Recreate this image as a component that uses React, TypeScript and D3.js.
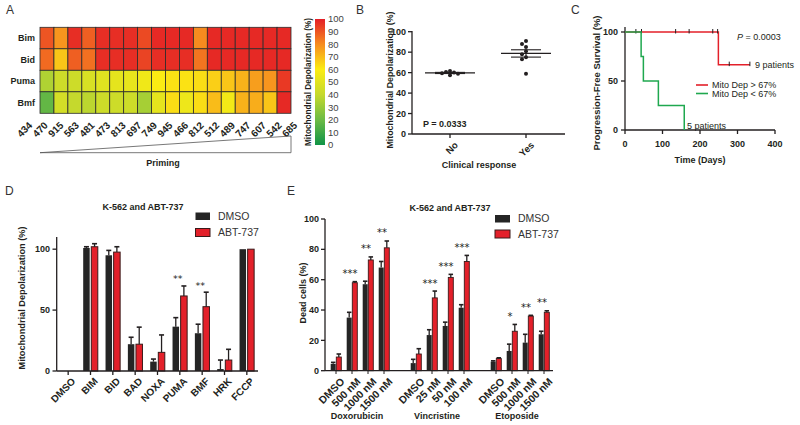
import React from 'react';
import * as d3 from 'd3';

// ---------- Panel A data ----------
const primingSamples = ["434","470","915","563","481","473","813","697","749","945","466","812","512","489","747","607","542","685"];
const bh3Peptides = ["Bim","Bid","Puma","Bmf"];
const bimRow = [90,78,97,88,97,97,97,92,98,98,98,80,98,98,98,98,98,98];
const bidRow = [86,68,88,85,97,97,97,93,97,97,97,84,98,98,98,98,98,98];
const pumaRow = [35,43,43,47,50,52,53,56,60,62,62,63,66,68,72,76,78,95];
const bmfRow = [18,45,40,38,43,43,43,33,52,63,55,63,70,57,72,73,68,98];
const colorStops = [0,20,40,60,80,100];
const colorRange = ["#109447","#6cbb45","#c5d92d","#fbec13","#f68b1f","#e41e26"];
const colorbarTicks = [0,10,20,30,40,50,60,70,80,90,100];

// ---------- Panel B data ----------
const responseCats = ["No","Yes"];
const responseNo = [61.5,60.5,60,59.5,59,57.5];
const responseYes = [91,88,85,81,78,75,73,59];
const bTicks = [0,20,40,60,80,100];

// ---------- Panel C data ----------
const highTimes = [0,249,333];
const highSurv = [100,66.7,66.7];
const highCensor = [29,44,135,171,234,247,278,333];
const lowTimes = [0,43,49,89,158];
const lowSurv = [100,75,50,25,0];
const cXTicks = [0,100,200,300,400];
const cYTicks = [0,50,100];

// ---------- Panel D data ----------
const peptidesD = ["DMSO","BIM","BID","BAD","NOXA","PUMA","BMF","HRK","FCCP"];
const dmsoDep = [0,101,95,22,7.7,36.4,31,1.6,100];
const dmsoDepErr = [0,1,4,5.7,2.1,7.4,7.4,7.4,0];
const abtDep = [0,102,97.6,22,15.3,61.6,52.8,9,100];
const abtDepErr = [0,2.5,4.4,14,14.3,8.2,11.9,8.8,0];
const depStars = ["","","","","","**","**","",""];
const dTicks = [0,50,100];

// ---------- Panel E data ----------
const drugs = ["Doxorubicin","Vincristine","Etoposide"];
const treatmentLabels = ["DMSO","500 nM","1000 nM","1500 nM","DMSO","25 nM","50 nM","100 nM","DMSO","500 nM","1000 nM","1500 nM"];
const dmsoDead = [4.5,35,57,68,5,23.5,29.5,41.5,6,13,18.5,24];
const dmsoDeadErr = [1,3.5,2,4,2.5,3.5,2.5,2,0.5,4.5,5.5,2];
const abtDead = [9,58,73,81,11,48,61.5,72,8,26,36,38.5];
const abtDeadErr = [2,0.7,2,4.5,3.5,4.5,2,4,0.5,4.5,0.5,1];
const deadStars = ["","***","**","**","","***","***","***","","*","**","**"];
const eTicks = [0,20,40,60,80,100];

const FONT = "'Liberation Sans', Arial, Helvetica, sans-serif";
const INK = "#231f20";
const RED = "#e3202a";
const BLACK = "#252525";
const AXW = 1.3;

function PanelLabel({ x, y, t }: { x: number; y: number; t: string }) {
  return <text x={x} y={y} fontSize={12} fill="#333" fontFamily={FONT}>{t}</text>;
}

function Stars({ x, y, s, size }: { x: number; y: number; s: string; size: number }) {
  return (
    <text x={x} y={y} textAnchor="middle" fontSize={size} fill="#222" stroke="none"
      fontFamily="'DejaVu Sans', 'Liberation Sans', sans-serif" style={{ fontVariantEmoji: 'text' } as any}>{s}</text>
  );
}

function PanelA() {
  const x = d3.scaleBand().domain(primingSamples).range([40, 291]);
  const y = d3.scaleBand().domain(bh3Peptides).range([27.3, 113.3]);
  const color = d3.scaleLinear<string>().domain(colorStops).range(colorRange).interpolate(d3.interpolateRgb);
  const rows = [bimRow, bidRow, pumaRow, bmfRow];
  const labelX = d3.scalePoint().domain(primingSamples).range([28, 293]);
  const cb = d3.scaleLinear().domain([0, 100]).range([145, 19]);
  return (
    <g fontFamily={FONT}>
      <defs>
        <linearGradient id="cbGrad" x1="0" y1="1" x2="0" y2="0">
          {colorStops.map((s, i) => (
            <stop key={i} offset={`${s}%`} stopColor={colorRange[i]} />
          ))}
        </linearGradient>
      </defs>
      {rows.map((row, r) =>
        row.map((v, c) => (
          <rect key={`${r}-${c}`} x={x(primingSamples[c])!} y={y(bh3Peptides[r])!}
            width={x.bandwidth()} height={y.bandwidth()} fill={color(v)} stroke="#2b2b2b" strokeWidth={0.8} />
        ))
      )}
      {bh3Peptides.map(p => (
        <text key={p} x={35} y={y(p)! + y.bandwidth() / 2} dy="0.35em" textAnchor="end" fontSize={9} fontWeight="bold" fill={INK}>{p}</text>
      ))}
      {primingSamples.map(s => (
        <text key={s} transform={`translate(${labelX(s)},${121}) rotate(-45)`} textAnchor="end" dy="0.7em" fontSize={10} fontWeight="bold" fill={INK}>{s}</text>
      ))}
      <path d={`M40,152.7 L291,136 L291,152.7 Z`} fill="none" stroke="#555" strokeWidth={0.8} />
      <text x={163} y={166} textAnchor="middle" fontSize={9} fontWeight="bold" fill={INK}>Priming</text>
      <rect x={315} y={19} width={10} height={126} fill="url(#cbGrad)" />
      {colorbarTicks.map(t => (
        <text key={t} x={328} y={cb(t)} dy="0.35em" fontSize={9.5} fill="#444">{t}</text>
      ))}
      <text transform={`translate(311,${82}) rotate(-90)`} textAnchor="middle" fontSize={8.5} fontWeight="bold" fill={INK}
        textLength={128} lengthAdjust="spacingAndGlyphs">Mitochondrial Depolarization (%)</text>
    </g>
  );
}

function swarmOffsets(vals: number[], ys: (v: number) => number) {
  const placed: { y: number; dx: number }[] = [];
  const cands = [0, -1, 1, -2, 2, -3, 3, -4, 4];
  return vals.map(v => {
    const py = ys(v);
    let dx = 0;
    for (const c of cands) {
      dx = c * 4;
      if (placed.every(p => Math.hypot(p.y - py, p.dx - dx) >= 3.6)) break;
    }
    placed.push({ y: py, dx });
    return dx;
  });
}

function PanelB() {
  const yB = d3.scaleLinear().domain([0, 100]).range([134, 31.7]);
  const xB = d3.scalePoint().domain(responseCats).range([450, 526]);
  const groups = [responseNo, responseYes];
  return (
    <g fontFamily={FONT} fill={INK}>
      <line x1={412} x2={412} y1={31} y2={134} stroke={INK} strokeWidth={AXW} />
      <line x1={412} x2={565} y1={134} y2={134} stroke={INK} strokeWidth={AXW} />
      {bTicks.map(t => (
        <g key={t}>
          <line x1={408} x2={412} y1={yB(t)} y2={yB(t)} stroke={INK} strokeWidth={AXW} />
          <text x={406} y={yB(t)} dy="0.35em" textAnchor="end" fontSize={9} fontWeight="bold">{t}</text>
        </g>
      ))}
      {responseCats.map(c => (
        <g key={c}>
          <line x1={xB(c)} x2={xB(c)} y1={134} y2={138} stroke={INK} strokeWidth={AXW} />
          <text transform={`translate(${xB(c)! + 4},${141}) rotate(-45)`} textAnchor="end" dy="0.7em" fontSize={9.5} fontWeight="bold">{c}</text>
        </g>
      ))}
      {groups.map((vals, gi) => {
        const cx = xB(responseCats[gi])!;
        const mean = d3.mean(vals)!;
        const sem = d3.deviation(vals)! / Math.sqrt(vals.length);
        const offs = swarmOffsets(vals, yB);
        return (
          <g key={gi}>
            <line x1={cx - 25} x2={cx + 25} y1={yB(mean)} y2={yB(mean)} stroke={INK} strokeWidth={1.2} />
            <line x1={cx - 15} x2={cx + 15} y1={yB(mean + sem)} y2={yB(mean + sem)} stroke={INK} strokeWidth={1.1} />
            <line x1={cx - 15} x2={cx + 15} y1={yB(mean - sem)} y2={yB(mean - sem)} stroke={INK} strokeWidth={1.1} />
            <line x1={cx} x2={cx} y1={yB(mean + sem)} y2={yB(mean - sem)} stroke={INK} strokeWidth={1.1} />
            {vals.map((v, i) => (
              <circle key={i} cx={cx + offs[i]} cy={yB(v)} r={2} fill={INK} />
            ))}
          </g>
        );
      })}
      <text x={423} y={124} dy="0.35em" fontSize={9} fontWeight="bold">P = 0.0333</text>
      <text x={479} y={165} dy="0.35em" textAnchor="middle" fontSize={9} fontWeight="bold">Clinical response</text>
      <text transform={`translate(390,${80}) rotate(-90)`} textAnchor="middle" dy="0.35em" fontSize={9} fontWeight="bold"
        textLength={137} lengthAdjust="spacingAndGlyphs">Mitochondrial Depolarization (%)</text>
    </g>
  );
}

function PanelC() {
  const xC = d3.scaleLinear().domain([0, 400]).range([625, 775]);
  const yC = d3.scaleLinear().domain([0, 100]).range([130, 32]);
  const stepLine = (times: number[], surv: number[]) =>
    d3.line<number>().x((t) => xC(t)).y((_, i) => yC(surv[i])).curve(d3.curveStepAfter)(times)!;
  const survAt = (t: number) => {
    let s = highSurv[0];
    highTimes.forEach((ht, i) => { if (t >= ht) s = highSurv[i]; });
    return s;
  };
  return (
    <g fontFamily={FONT} fill={INK}>
      <line x1={625} x2={625} y1={27} y2={130} stroke={INK} strokeWidth={AXW} />
      <line x1={625} x2={775} y1={130} y2={130} stroke={INK} strokeWidth={AXW} />
      {cYTicks.map(t => (
        <g key={t}>
          <line x1={621} x2={625} y1={yC(t)} y2={yC(t)} stroke={INK} strokeWidth={AXW} />
          <text x={618} y={yC(t)} dy="0.35em" textAnchor="end" fontSize={9} fontWeight="bold">{t}</text>
        </g>
      ))}
      {cXTicks.map(t => (
        <g key={t}>
          <line x1={xC(t)} x2={xC(t)} y1={130} y2={134} stroke={INK} strokeWidth={AXW} />
          <text x={xC(t)} y={144} dy="0.35em" textAnchor="middle" fontSize={9} fontWeight="bold">{t}</text>
        </g>
      ))}
      <path d={stepLine(highTimes, highSurv)} fill="none" stroke={RED} strokeWidth={1.5} />
      {highCensor.map((t, i) => (
        <line key={i} x1={xC(t)} x2={xC(t)} y1={yC(survAt(t)) - 3} y2={yC(survAt(t)) + 1.5} stroke={INK} strokeWidth={1} />
      ))}
      <path d={stepLine(lowTimes, lowSurv)} fill="none" stroke="#1fa84f" strokeWidth={1.5} />
      <text x={737} y={37} dy="0.35em" fontSize={9}><tspan fontStyle="italic">P</tspan> = 0.0003</text>
      <text x={755} y={65} dy="0.35em" fontSize={9}>9 patients</text>
      <text x={687} y={126} dy="0.35em" fontSize={9}>5 patients</text>
      <line x1={696} x2={708} y1={85} y2={85} stroke={RED} strokeWidth={1.6} />
      <text x={712} y={85} dy="0.35em" fontSize={9}>Mito Dep &gt; 67%</text>
      <line x1={696} x2={708} y1={93.5} y2={93.5} stroke="#1fa84f" strokeWidth={1.6} />
      <text x={712} y={93.5} dy="0.35em" fontSize={9}>Mito Dep &lt; 67%</text>
      <text x={700} y={160} dy="0.35em" textAnchor="middle" fontSize={9} fontWeight="bold">Time (Days)</text>
      <text transform={`translate(597,${83}) rotate(-90)`} textAnchor="middle" dy="0.35em" fontSize={9} fontWeight="bold"
        textLength={135} lengthAdjust="spacingAndGlyphs">Progression-Free Survival (%)</text>
    </g>
  );
}

function ErrBar({ x, y0, y1, w }: { x: number; y0: number; y1: number; w: number }) {
  return (
    <g stroke={INK} strokeWidth={1.3}>
      <line x1={x} x2={x} y1={y0} y2={y1} />
      <line x1={x - w / 2} x2={x + w / 2} y1={y1} y2={y1} strokeWidth={1.6} />
    </g>
  );
}

function PanelD() {
  const yD = d3.scaleLinear().domain([0, 110]).range([371, 237]);
  const xD = d3.scaleBand().domain(peptidesD).range([57, 258]);
  const bw = 6.5;
  return (
    <g fontFamily={FONT} fill={INK}>
      <text x={143} y={207} dy="0.35em" textAnchor="middle" fontSize={9} fontWeight="bold">K-562 and ABT-737</text>
      {peptidesD.map((p, i) => {
        const c = xD(p)! + xD.bandwidth() / 2;
        const bx = c - bw - 0.8;
        const rx = c + 0.8;
        const starTop = Math.max(dmsoDep[i] + dmsoDepErr[i], abtDep[i] + abtDepErr[i]);
        return (
          <g key={p}>
            {dmsoDep[i] > 0 && (
              <>
                <rect x={bx} y={yD(dmsoDep[i])} width={bw} height={yD(0) - yD(dmsoDep[i])} fill={BLACK} />
                {dmsoDepErr[i] > 0 && <ErrBar x={bx + bw / 2} y0={yD(dmsoDep[i])} y1={yD(dmsoDep[i] + dmsoDepErr[i])} w={5} />}
              </>
            )}
            {abtDep[i] > 0 && (
              <>
                <rect x={rx} y={yD(abtDep[i])} width={bw} height={yD(0) - yD(abtDep[i])} fill={RED} stroke="#3a1a1a" strokeWidth={1} />
                {abtDepErr[i] > 0 && <ErrBar x={rx + bw / 2} y0={yD(abtDep[i])} y1={yD(abtDep[i] + abtDepErr[i])} w={5} />}
              </>
            )}
            {depStars[i] && <Stars x={c - 2} y={yD(starTop + 3)} s={depStars[i]} size={9.5} />}
            <line x1={c} x2={c} y1={371} y2={375} stroke={INK} strokeWidth={AXW} />
            <text transform={`translate(${c + 3},${377}) rotate(-45)`} textAnchor="end" dy="0.7em" fontSize={10} fontWeight="bold">{p}</text>
          </g>
        );
      })}
      <line x1={56.7} x2={56.7} y1={237} y2={371} stroke={INK} strokeWidth={AXW} />
      <line x1={56.7} x2={258} y1={371} y2={371} stroke={INK} strokeWidth={AXW} />
      {dTicks.map(t => (
        <g key={t}>
          <line x1={52.5} x2={56.7} y1={yD(t)} y2={yD(t)} stroke={INK} strokeWidth={AXW} />
          <text x={50} y={yD(t)} dy="0.35em" textAnchor="end" fontSize={9} fontWeight="bold">{t}</text>
        </g>
      ))}
      <text transform={`translate(22,${298}) rotate(-90)`} textAnchor="middle" dy="0.35em" fontSize={9} fontWeight="bold"
        textLength={143} lengthAdjust="spacingAndGlyphs">Mitochondrial Depolarization (%)</text>
      <rect x={195.5} y={212.5} width={14.5} height={7.5} fill={BLACK} />
      <text x={218} y={216.5} dy="0.35em" fontSize={10.5} fill="#333">DMSO</text>
      <rect x={195.5} y={228.5} width={14.5} height={8} fill={RED} stroke="#3a1a1a" strokeWidth={1} />
      <text x={218} y={232.5} dy="0.35em" fontSize={10.5} fill="#333">ABT-737</text>
    </g>
  );
}

function PanelE() {
  const yE = d3.scaleLinear().domain([0, 100]).range([370.7, 219]);
  const slots = d3.range(14);
  const xE = d3.scaleBand<number>().domain(slots).range([328, 552]);
  const slotOf = (i: number) => Math.floor(i / 4) * 5 + (i % 4);
  const bw = 5;
  return (
    <g fontFamily={FONT} fill={INK}>
      <text x={450} y={208} dy="0.35em" textAnchor="middle" fontSize={9} fontWeight="bold">K-562 and ABT-737</text>
      {treatmentLabels.map((lab, i) => {
        const c = xE(slotOf(i))! + xE.bandwidth() / 2;
        const bx = c - bw - 0.3;
        const rx = c + 0.3;
        const starTop = abtDead[i] + abtDeadErr[i];
        return (
          <g key={i}>
            <rect x={bx} y={yE(dmsoDead[i])} width={bw} height={yE(0) - yE(dmsoDead[i])} fill={BLACK} />
            <ErrBar x={bx + bw / 2} y0={yE(dmsoDead[i])} y1={yE(dmsoDead[i] + dmsoDeadErr[i])} w={4.5} />
            <rect x={rx} y={yE(abtDead[i])} width={bw} height={yE(0) - yE(abtDead[i])} fill={RED} stroke="#3a1a1a" strokeWidth={0.9} />
            <ErrBar x={rx + bw / 2} y0={yE(abtDead[i])} y1={yE(abtDead[i] + abtDeadErr[i])} w={4.5} />
            {deadStars[i] && <Stars x={c - 2} y={yE(starTop + 3)} s={deadStars[i]} size={10} />}
            <line x1={c} x2={c} y1={370.7} y2={374} stroke={INK} strokeWidth={1} />
            <text transform={`translate(${c + 4},${377}) rotate(-45)`} textAnchor="end" dy="0.7em" fontSize={10.5} fontWeight="bold">{lab}</text>
          </g>
        );
      })}
      {drugs.map((d, g) => {
        const c0 = xE(g * 5)! + xE.bandwidth() / 2;
        const c3 = xE(g * 5 + 3)! + xE.bandwidth() / 2;
        return <text key={d} x={(c0 + c3) / 2 - 3} y={416} dy="0.35em" textAnchor="middle" fontSize={9} fontWeight="bold">{d}</text>;
      })}
      <line x1={325} x2={325} y1={219} y2={370.7} stroke={INK} strokeWidth={AXW} />
      <line x1={325} x2={553} y1={370.7} y2={370.7} stroke={INK} strokeWidth={AXW} />
      {eTicks.map(t => (
        <g key={t}>
          <line x1={321} x2={325} y1={yE(t)} y2={yE(t)} stroke={INK} strokeWidth={AXW} />
          <text x={319} y={yE(t)} dy="0.35em" textAnchor="end" fontSize={9} fontWeight="bold">{t}</text>
        </g>
      ))}
      <text transform={`translate(303,${293}) rotate(-90)`} textAnchor="middle" dy="0.35em" fontSize={9} fontWeight="bold">Dead cells (%)</text>
      <rect x={495} y={215} width={15} height={7.5} fill={BLACK} />
      <text x={518} y={218.5} dy="0.35em" fontSize={10.5} fill="#333">DMSO</text>
      <rect x={495} y={230} width={15} height={8} fill={RED} stroke="#3a1a1a" strokeWidth={1} />
      <text x={518} y={234} dy="0.35em" fontSize={10.5} fill="#333">ABT-737</text>
    </g>
  );
}

export default function App() {
  return (
    <svg width={800} height={425} viewBox="0 0 800 425" style={{ position: 'absolute', left: 0, top: 0, background: '#fff' }}>
      <rect width={800} height={425} fill="#fff" />
      <PanelLabel x={6} y={14} t="A" />
      <PanelLabel x={356} y={14} t="B" />
      <PanelLabel x={571} y={14} t="C" />
      <PanelLabel x={5} y={195} t="D" />
      <PanelLabel x={287} y={195} t="E" />
      <PanelA />
      <PanelB />
      <PanelC />
      <PanelD />
      <PanelE />
    </svg>
  );
}
